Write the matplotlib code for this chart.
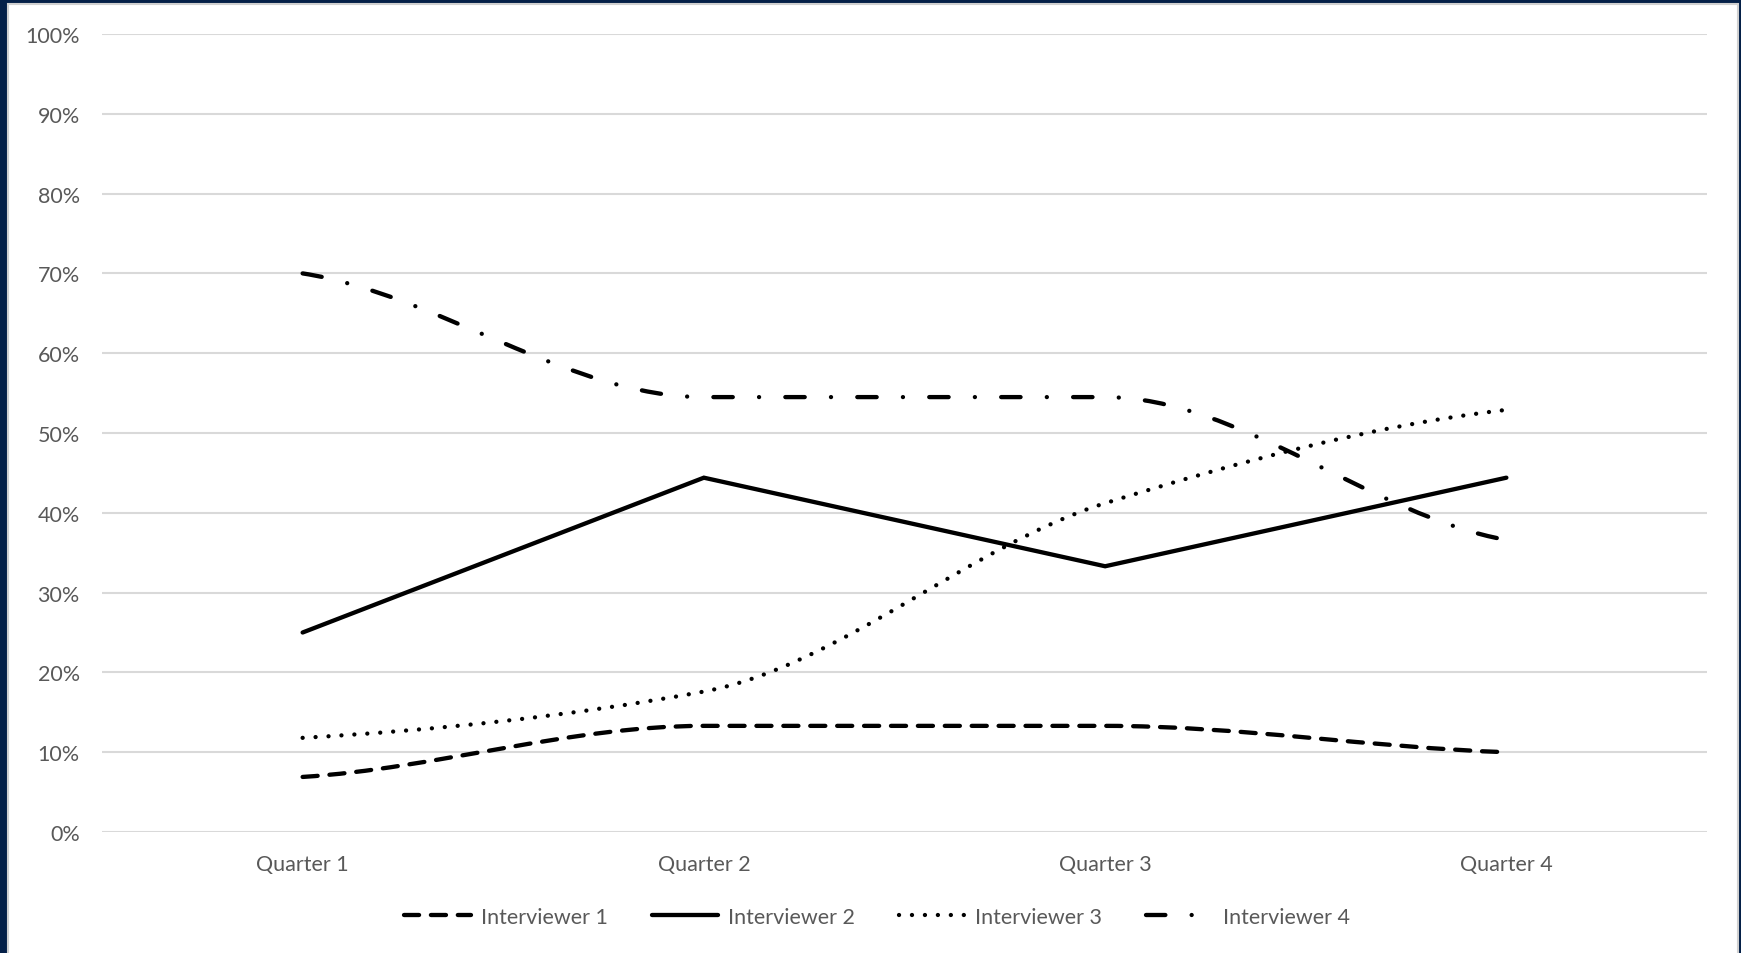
import numpy as np
import matplotlib
matplotlib.use('Agg')
import matplotlib.pyplot as plt
from matplotlib.path import Path
from matplotlib.patches import PathPatch, Rectangle
from matplotlib.lines import Line2D

# данные графика
quarters = ['Quarter 1', 'Quarter 2', 'Quarter 3', 'Quarter 4']
interviewer_1 = [6.9, 13.3, 13.3, 10.0]
interviewer_2 = [25.0, 44.4, 33.3, 44.4]
interviewer_3 = [11.8, 17.6, 41.2, 52.9]
interviewer_4 = [70.0, 54.5, 54.5, 36.6]
series_names = ['Interviewer 1', 'Interviewer 2', 'Interviewer 3', 'Interviewer 4']
y_ticks = [0, 10, 20, 30, 40, 50, 60, 70, 80, 90, 100]

W, H = 1741, 954
LW = 3.1
FS = 15.5
TEXT = '#595959'
plt.rcParams['font.family'] = ['Lato', 'DejaVu Sans']


def smooth_path(xs, ys):
    # сглаженная линия: кривые Безье, касательные без выбросов на плоских участках
    xs = np.asarray(xs, float)
    ys = np.asarray(ys, float)
    n = len(xs)
    d = np.diff(ys) / np.diff(xs)
    m = np.zeros(n)
    m[0], m[-1] = d[0] / 2, d[-1] / 2
    for i in range(1, n - 1):
        if d[i - 1] * d[i] > 0:
            m[i] = 2 * d[i - 1] * d[i] / (d[i - 1] + d[i])
    verts = [(xs[0], ys[0])]
    codes = [Path.MOVETO]
    for i in range(n - 1):
        h = (xs[i + 1] - xs[i]) / 3
        verts += [(xs[i] + h, ys[i] + m[i] * h),
                  (xs[i + 1] - h, ys[i + 1] - m[i + 1] * h),
                  (xs[i + 1], ys[i + 1])]
        codes += [Path.CURVE4] * 3
    return Path(verts, codes)


fig = plt.figure(figsize=(W / 100, H / 100), dpi=100, facecolor='#042048')
fig.patches.append(Rectangle((8 / W, -0.02), 1730 / W, 1.02 - 5 / H,
                             transform=fig.transFigure, facecolor='white',
                             edgecolor='#D0D0D0', lw=1.5, zorder=-5))

ax = fig.add_axes([102 / W, 1 - 833 / H, 1605 / W, 798 / H])
ax.set_facecolor('white')
x = np.arange(len(quarters))

styles = [
    dict(data=interviewer_1, dashes=(3.5, 2.75), smooth=True),
    dict(data=interviewer_2, dashes=None, smooth=False),
    dict(data=interviewer_3, dashes=(0.01, 3.0), smooth=True),
    dict(data=interviewer_4, dashes=(4.5, 6.1, 0.01, 6.1), smooth=True),
]

handles = []
for name, st in zip(series_names, styles):
    ls = '-' if st['dashes'] is None else (0, st['dashes'])
    if st['smooth']:
        patch = PathPatch(smooth_path(x, st['data']), fill=False, edgecolor='black',
                          lw=LW, linestyle=ls, capstyle='round', joinstyle='round', zorder=3)
        ax.add_patch(patch)
    else:
        ax.plot(x, st['data'], color='black', lw=LW, linestyle=ls,
                solid_capstyle='round', solid_joinstyle='miter', zorder=3)
    handles.append(Line2D([], [], color='black', lw=LW, linestyle=ls,
                          dash_capstyle='round', solid_capstyle='round', label=name))

ax.set_xlim(-0.5, 3.5)
ax.set_ylim(0, 100)
ax.set_xticks(x)
ax.set_xticklabels(quarters)
ax.set_yticks(y_ticks)
ax.set_yticklabels([f'{v}%' for v in y_ticks])
ax.grid(axis='y', color='#D9D9D9', lw=1.5)
ax.set_axisbelow(True)
for s in ax.spines.values():
    s.set_visible(False)
ax.tick_params(length=0, labelsize=FS, labelcolor=TEXT)
ax.tick_params(axis='y', pad=16)
ax.tick_params(axis='x', pad=16)

fig.legend(handles=handles, loc='center', bbox_to_anchor=(877 / W, 1 - 918 / H),
           ncol=4, frameon=False, fontsize=FS, labelcolor=TEXT,
           handlelength=3.1, handletextpad=0.45, columnspacing=2.05)

plt.savefig('out.png', dpi=100, facecolor=fig.get_facecolor())
